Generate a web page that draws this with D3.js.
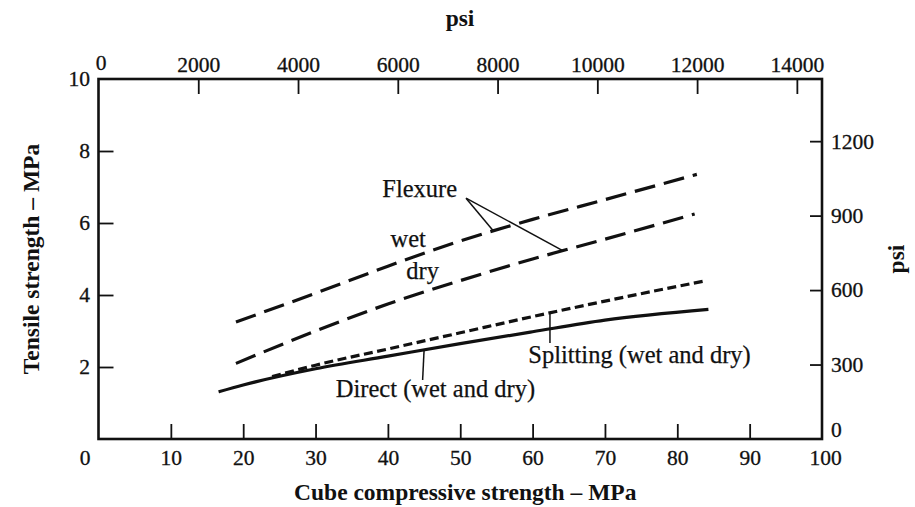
<!DOCTYPE html>
<html>
<head>
<meta charset="utf-8">
<script src="https://cdn.jsdelivr.net/npm/d3@7/dist/d3.min.js"></script>
<style>
  html, body { margin: 0; padding: 0; background: #ffffff; }
  svg { display: block; }
  text { font-family: "Liberation Serif", "Times New Roman", serif; fill: #111; }
</style>
</head>
<body>
<svg id="chart" width="915" height="507"></svg>
<script>
// ---- data (MPa vs MPa) ----
const flexWetX   = [19, 30, 40, 50, 60, 70, 82.7];
const flexWetY   = [3.25, 4.05, 4.8, 5.5, 6.1, 6.65, 7.35];
const flexDryX   = [19, 30, 40, 50, 60, 70, 82.4];
const flexDryY   = [2.1, 3.0, 3.75, 4.4, 5.0, 5.55, 6.25];
const splitX     = [24, 30, 40, 50, 60, 70, 83.5];
const splitY     = [1.73, 2.05, 2.5, 2.95, 3.4, 3.83, 4.38];
const directX    = [16.6, 20, 30, 40, 50, 60, 70, 84.3];
const directY    = [1.31, 1.5, 1.95, 2.3, 2.65, 2.98, 3.3, 3.6];

const xTicks     = [0, 10, 20, 30, 40, 50, 60, 70, 80, 90, 100];
const yTicks     = [2, 4, 6, 8, 10];
const psiTopTicks   = [0, 2000, 4000, 6000, 8000, 10000, 12000, 14000];
const psiRightTicks = [0, 300, 600, 900, 1200];
const PSI_PER_MPA = 145.04;

const svg = d3.select("#chart");
const L = 98.5, R = 822, T = 79, B = 439;

const x = d3.scaleLinear().domain([0, 100]).range([L, R]);
const y = d3.scaleLinear().domain([0, 10]).range([B, T]);
const xPsi = d3.scaleLinear().domain([0, 100 * PSI_PER_MPA]).range([L, R]);
const yPsi = d3.scaleLinear().domain([0, 10 * PSI_PER_MPA]).range([B, T]);

const tickFont = "21.5px";
const fmt = d3.format("d");

function styleAxis(g) {
  g.select(".domain").remove();
  g.selectAll(".tick line").attr("stroke", "#111").attr("stroke-width", 1.8);
  g.selectAll(".tick text").attr("font-family", "Liberation Serif").attr("font-size", tickFont)
    .attr("fill", "#111").attr("stroke", "#111").attr("stroke-width", 0.3);
}

// bottom axis
const gB = svg.append("g").attr("transform", `translate(0,${B})`)
  .call(d3.axisBottom(x).tickValues(xTicks).tickSizeInner(-15).tickSizeOuter(0).tickPadding(11).tickFormat(fmt))
  .call(styleAxis);
gB.selectAll(".tick").filter(d => d === 0 || d === 100).select("line").remove();
gB.selectAll(".tick").filter(d => d === 0).select("text").attr("x", -14);
gB.selectAll(".tick").filter(d => d === 100).select("text").attr("x", 3);

// top axis (psi)
const gT = svg.append("g").attr("transform", `translate(0,${T})`)
  .call(d3.axisTop(xPsi).tickValues(psiTopTicks).tickSizeInner(-15).tickSizeOuter(0).tickPadding(7).tickFormat(fmt))
  .call(styleAxis);
gT.selectAll(".tick").filter(d => d === 0).select("line").remove();
gT.selectAll(".tick").filter(d => d === 0).select("text").attr("x", 2).attr("y", -9);

// left axis
const gL = svg.append("g").attr("transform", `translate(${L},0)`)
  .call(d3.axisLeft(y).tickValues(yTicks).tickSizeInner(-15).tickSizeOuter(0).tickPadding(8.5).tickFormat(fmt))
  .call(styleAxis);
gL.selectAll(".tick").filter(d => d === 10).select("line").remove();

// right axis (psi)
const gR = svg.append("g").attr("transform", `translate(${R},0)`)
  .call(d3.axisRight(yPsi).tickValues(psiRightTicks).tickSizeInner(-12).tickSizeOuter(0).tickPadding(9).tickFormat(fmt))
  .call(styleAxis);
gR.selectAll(".tick").filter(d => d === 0).select("line").remove();
gR.selectAll(".tick").filter(d => d === 0).select("text").attr("dy", "-0.1em");

// frame
svg.append("rect").attr("x", L).attr("y", T).attr("width", R - L).attr("height", B - T)
  .attr("fill", "none").attr("stroke", "#111").attr("stroke-width", 2.6);

// axis titles
svg.append("text").attr("x", (L + R) / 2 + 5).attr("y", 500).attr("text-anchor", "middle")
  .attr("font-weight", "bold").attr("font-size", "23.5px").text("Cube compressive strength – MPa");
svg.append("text").attr("transform", `translate(39,${(T + B) / 2}) rotate(-90)`).attr("text-anchor", "middle")
  .attr("font-weight", "bold").attr("font-size", "23.5px").text("Tensile strength – MPa");
svg.append("text").attr("x", 460).attr("y", 26).attr("text-anchor", "middle")
  .attr("font-weight", "bold").attr("font-size", "23.5px").text("psi");
svg.append("text").attr("transform", `translate(904,${(T + B) / 2}) rotate(-90)`).attr("text-anchor", "middle")
  .attr("font-weight", "bold").attr("font-size", "23.5px").text("psi");

// curves
const line = d3.line().x(d => x(d[0])).y(d => y(d[1])).curve(d3.curveMonotoneX);
function series(xs, ys) { return xs.map((v, i) => [v, ys[i]]); }

svg.append("path").datum(series(flexWetX, flexWetY)).attr("d", line)
  .attr("fill", "none").attr("stroke", "#111").attr("stroke-width", 3.2).attr("stroke-dasharray", "21,9");
svg.append("path").datum(series(flexDryX, flexDryY)).attr("d", line)
  .attr("fill", "none").attr("stroke", "#111").attr("stroke-width", 3.2).attr("stroke-dasharray", "21,9");
svg.append("path").datum(series(splitX, splitY)).attr("d", line)
  .attr("fill", "none").attr("stroke", "#111").attr("stroke-width", 3.2).attr("stroke-dasharray", "9,4.5");
svg.append("path").datum(series(directX, directY)).attr("d", line)
  .attr("fill", "none").attr("stroke", "#111").attr("stroke-width", 3.2);

// annotations (in data units)
const annFont = "24.5px";
function ann(t) { return t.attr("font-size", annFont).attr("stroke", "#111").attr("stroke-width", 0.25); }
ann(svg.append("text").attr("x", x(44.4)).attr("y", y(6.72)).attr("text-anchor", "middle")).text("Flexure");
ann(svg.append("text").attr("x", x(42.8)).attr("y", y(5.33)).attr("text-anchor", "middle")).text("wet");
ann(svg.append("text").attr("x", x(44.8)).attr("y", y(4.44)).attr("text-anchor", "middle")).text("dry");
ann(svg.append("text").attr("x", x(32.8)).attr("y", y(1.17))).text("Direct (wet and dry)");
ann(svg.append("text").attr("x", x(59.4)).attr("y", y(2.11))).text("Splitting (wet and dry)");

const pointers = [
  [[50.8, 6.69], [54.5, 5.8]],
  [[50.8, 6.69], [64.1, 5.24]],
  [[45.0, 2.47], [44.8, 1.64]],
  [[62.4, 3.52], [62.4, 2.67]]
];
pointers.forEach(p => {
  svg.append("line").attr("x1", x(p[0][0])).attr("y1", y(p[0][1])).attr("x2", x(p[1][0])).attr("y2", y(p[1][1]))
    .attr("stroke", "#111").attr("stroke-width", 1.5);
});
</script>
</body>
</html>
